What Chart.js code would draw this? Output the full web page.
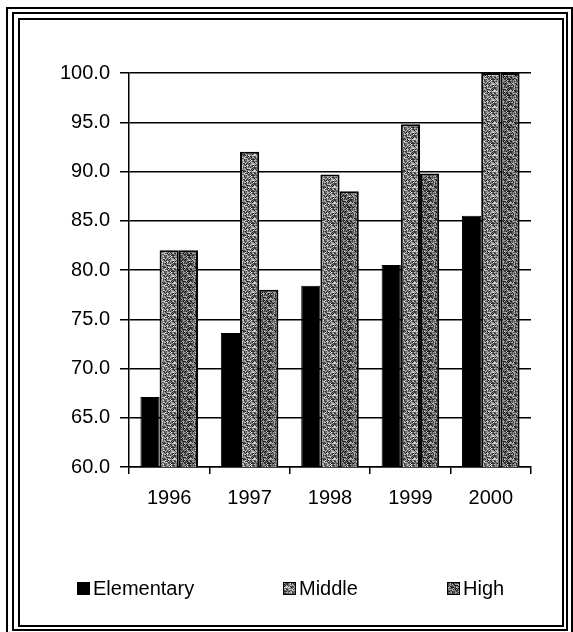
<!DOCTYPE html>
<html>
<head>
<meta charset="utf-8">
<script src="https://cdn.jsdelivr.net/npm/chart.js@4"></script>
<style>
    body { margin: 0; background: #fff; }
    #wrap { position: relative; width: 573px; height: 632px; overflow: hidden; }
    .frame { position: absolute; border: 2px solid #000; box-sizing: border-box; }
    #myChart { position: absolute; left: 0; top: 0; }
</style>
</head>
<body>
<div id="wrap">
    <div class="frame" style="left:6px; top:7px; width:567px; height:640px;"></div>
    <div class="frame" style="left:12px; top:12px; width:556px; height:619px;"></div>
    <div class="frame" style="left:18px; top:18px; width:546px; height:609px;"></div>
    <canvas id="myChart" width="573" height="632"></canvas>
</div>
<script>
const years = ['1996', '1997', '1998', '1999', '2000'];
const elementary = [67.1, 73.6, 78.4, 80.5, 85.5];
const middle = [82.0, 92.0, 89.7, 94.8, 100.0];
const high = [82.0, 78.0, 88.0, 89.8, 100.0];

// speckled grey fill, like the printed halftone
function stipple(base, spread) {
    let c = document.createElement('canvas');
    c.width = 16;
    c.height = 16;
    let ctx = c.getContext('2d');
    let img = ctx.createImageData(16, 16);
    for (let y = 0; y < 16; y++) {
        for (let x = 0; x < 16; x++) {
            let h = ((x * 73 + y * 151) ^ (x * y * 31 + 17)) % 7;
            let v = base + (h - 3) * spread;
            if ((x + y) % 2 === 0) v -= spread;
            v = Math.max(0, Math.min(255, v));
            let i = (y * 16 + x) * 4;
            img.data[i] = v;
            img.data[i + 1] = v;
            img.data[i + 2] = v;
            img.data[i + 3] = 255;
        }
    }
    ctx.putImageData(img, 0, 0);
    return document.getElementById('myChart').getContext('2d').createPattern(c, 'repeat');
}

const middleFill = stipple(140, 28);
const highFill = stipple(112, 26);

const fontFamily = "'Liberation Sans', Arial, sans-serif";
const font = { family: fontFamily, size: 20 };

// legend spread across the bottom like the original
const legendX = [77, 283, 447];
const legendY = 588;
const spreadLegend = {
    id: 'spreadLegend',
    afterDraw(chart) {
        let ctx = chart.ctx;
        ctx.save();
        ctx.font = '20px ' + fontFamily;
        ctx.textBaseline = 'middle';
        chart.data.datasets.forEach((ds, i) => {
            ctx.fillStyle = ds.backgroundColor;
            ctx.fillRect(legendX[i], legendY - 6, 13, 13);
            ctx.strokeStyle = '#000';
            ctx.lineWidth = 1;
            ctx.strokeRect(legendX[i] + 0.5, legendY - 5.5, 12, 12);
            ctx.fillStyle = '#000';
            ctx.fillText(ds.label, legendX[i] + 16, legendY + 1);
        });
        ctx.restore();
    }
};

var config = {
    type: 'bar',
    data: {
        labels: years,
        datasets: [{
            label: 'Elementary',
            data: elementary,
            backgroundColor: '#000',
            borderColor: '#000',
            borderWidth: 1
        }, {
            label: 'Middle',
            data: middle,
            backgroundColor: middleFill,
            borderColor: '#000',
            borderWidth: 2
        }, {
            label: 'High',
            data: high,
            backgroundColor: highFill,
            borderColor: '#000',
            borderWidth: 2
        }]
    },
    options: {
        responsive: false,
        animation: false,
        datasets: { bar: { categoryPercentage: 0.716, barPercentage: 1.0 } },
        layout: { padding: { left: 0, top: 73, right: 42, bottom: 103 } },
        scales: {
            x: {
                grid: {
                    color: (ctx) => ctx.index === years.length ? '#000' : 'rgba(0,0,0,0)',
                    tickColor: '#000',
                    tickLength: 7,
                    lineWidth: 1.5
                },
                border: { color: '#000', width: 1.5 },
                ticks: { color: '#000', font: font, padding: 12 },
                afterFit: (scale) => { scale.height = 62; }
            },
            y: {
                min: 60,
                max: 100,
                grid: { color: '#000', tickColor: '#000', tickLength: 9, lineWidth: 1.5 },
                border: { color: '#000', width: 1.5 },
                ticks: {
                    color: '#000',
                    font: font,
                    padding: 10,
                    stepSize: 5,
                    callback: (v) => v.toFixed(1)
                },
                afterFit: (scale) => { scale.width = 129; }
            }
        },
        plugins: {
            legend: { display: false },
            tooltip: { enabled: false }
        }
    },
    plugins: [spreadLegend]
};

var myChart = new Chart(document.getElementById('myChart'), config);
</script>
</body>
</html>
